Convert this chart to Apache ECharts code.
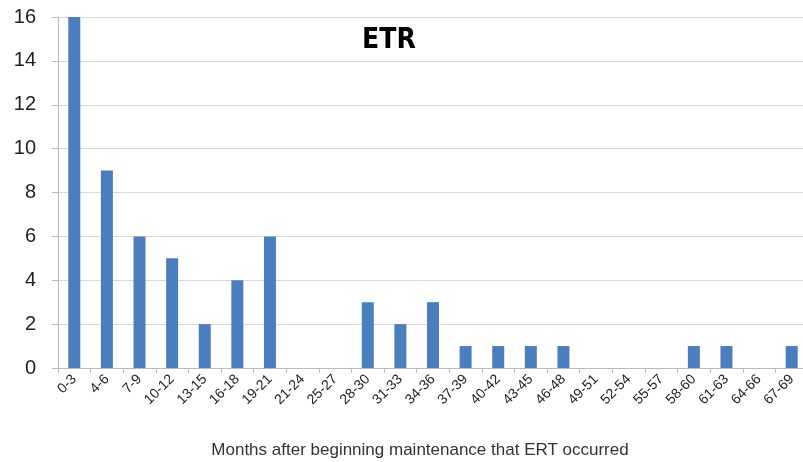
<!DOCTYPE html>
<html>
<head>
<meta charset="utf-8">
<script src="https://cdn.jsdelivr.net/npm/echarts@6/dist/echarts.min.js"></script>
<style>
  html, body { margin: 0; padding: 0; background: #fff; }
  #chart { width: 803px; height: 462px; }
</style>
</head>
<body>
<div id="chart"></div>
<script>
// month ranges after maintenance started
var categories = ["0-3", "4-6", "7-9", "10-12", "13-15", "16-18", "19-21", "21-24", "25-27", "28-30",
  "31-33", "34-36", "37-39", "40-42", "43-45", "46-48", "49-51", "52-54", "55-57", "58-60",
  "61-63", "64-66", "67-69"];
var counts = [16, 9, 6, 5, 2, 4, 6, 0, 0, 3, 2, 3, 1, 1, 1, 1, 0, 0, 0, 1, 1, 0, 1];
var yTicks = [0, 2, 4, 6, 8, 10, 12, 14, 16];

var chart = echarts.init(document.getElementById("chart"));
chart.setOption({
  animation: false,
  title: {
    text: "ETR",
    left: 384,
    top: 22,
    textAlign: "center",
    textStyle: { fontFamily: "DejaVu Sans Condensed", fontWeight: "bold", fontSize: 28, color: "#000" }
  },
  grid: { left: 58, right: -5, top: 17, bottom: 94, containLabel: false, outerBoundsMode: "none" },
  xAxis: {
    type: "category",
    data: categories,
    name: "Months after beginning maintenance that ERT occurred",
    nameLocation: "middle",
    nameGap: 74,
    nameTextStyle: { fontFamily: "Liberation Sans", fontSize: 17, color: "#333", padding: [0, 26, 0, 0] },
    axisLine: { lineStyle: { color: "#bbb", width: 1 } },
    axisTick: { show: true, alignWithLabel: false, length: 5, lineStyle: { color: "#bbb" } },
    axisLabel: { rotate: 45, fontFamily: "Liberation Sans", fontSize: 14, color: "#222", margin: 9, interval: 0 }
  },
  yAxis: {
    type: "value",
    min: yTicks[0],
    max: yTicks[yTicks.length - 1],
    interval: 2,
    axisLine: { show: true, lineStyle: { color: "#bbb", width: 1 } },
    axisTick: { show: true, length: 6, lineStyle: { color: "#bbb" } },
    axisLabel: { fontFamily: "Liberation Sans", fontSize: 20, color: "#222", margin: 22 },
    splitLine: { lineStyle: { color: "#d9d9d9", width: 1 } }
  },
  series: [{
    type: "bar",
    data: counts,
    barWidth: 12,
    itemStyle: { color: "#4a7ebf" }
  }]
});
</script>
</body>
</html>
